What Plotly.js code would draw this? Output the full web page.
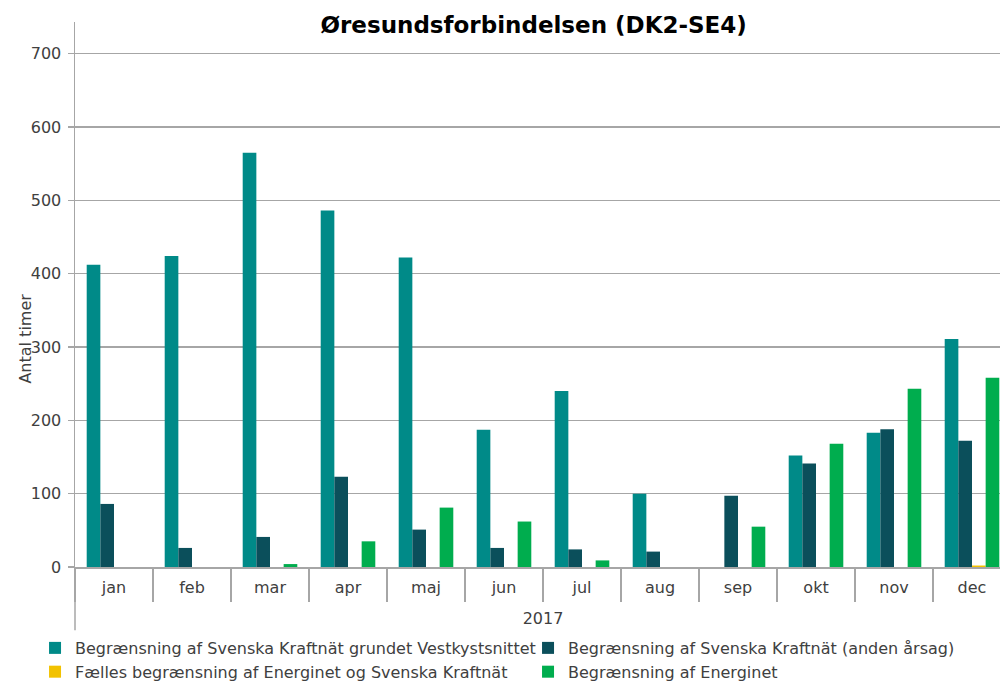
<!DOCTYPE html>
<html>
<head>
<meta charset="utf-8">
<script src="https://cdn.plot.ly/plotly-3.0.1.min.js"></script>
<style>
html,body{margin:0;padding:0;overflow:hidden;background:#fff;width:1000px;height:682px;}
#chart{width:1012px;height:682px;}
</style>
</head>
<body>
<div id="chart"></div>
<script>
const months = ["jan","feb","mar","apr","maj","jun","jul","aug","sep","okt","nov","dec"];
const seriesNames = [
  "Begrænsning af Svenska Kraftnät grundet Vestkystsnittet",
  "Begrænsning af Svenska Kraftnät (anden årsag)",
  "Fælles begrænsning af Energinet og Svenska Kraftnät",
  "Begrænsning af Energinet"
];
const vestkyst = [412, 424, 565, 486, 422, 187, 240, 100, 0, 152, 183, 311];
const andenAarsag = [86, 26, 41, 123, 51, 26, 24, 21, 97, 141, 188, 172];
const faelles = [0, 0, 0, 0, 0, 0, 0, 0, 0, 0, 0, 2];
const energinet = [0, 0, 4, 35, 81, 62, 9, 0, 55, 168, 243, 258];
const seriesValues = [vestkyst, andenAarsag, faelles, energinet];
const colors = ["#008A88", "#0B4F5B", "#F2C200", "#00AD4E"];
const yTicks = [0, 100, 200, 300, 400, 500, 600, 700];

const FONT = "DejaVu Sans, Verdana, sans-serif";
const traces = seriesValues.map((vals, i) => ({
  type: "bar",
  x: months,
  y: vals,
  name: seriesNames[i],
  marker: {color: colors[i], line: {width: 0}},
  hoverinfo: "skip"
}));

const layout = {
  width: 1012,
  height: 682,
  margin: {l: 75, r: 1, t: 22, b: 115, autoexpand: false},
  paper_bgcolor: "#fff",
  plot_bgcolor: "#fff",
  barmode: "group",
  bargap: 0.3,
  bargroupgap: 0,
  font: {family: FONT, size: 16, color: "#404040"},
  title: {
    text: "<b>Øresundsforbindelsen (DK2-SE4)</b>",
    font: {family: FONT, size: 23, color: "#000"},
    x: 0.49, xanchor: "center", xref: "paper",
    y: 0.963, yanchor: "middle"
  },
  xaxis: {
    type: "category",
    showline: true, linecolor: "#A6A6A6", linewidth: 1.5,
    ticks: "outside", tickson: "boundaries", ticklen: 33, tickwidth: 1.5, tickcolor: "#A6A6A6",
    ticklabelstandoff: 5,
    tickfont: {family: FONT, size: 16, color: "#404040"},
    showgrid: false,
    title: {text: "2017", font: {family: FONT, size: 16, color: "#404040"}, standoff: 17},
    automargin: false
  },
  yaxis: {
    range: [0, 743.2],
    tickvals: yTicks,
    ticktext: yTicks.map(String),
    showline: true, linecolor: "#A6A6A6", linewidth: 1.5,
    ticks: "outside", ticklen: 6, tickwidth: 1.5, tickcolor: "#A6A6A6",
    ticklabelstandoff: 3,
    showgrid: true, gridcolor: "#A6A6A6", gridwidth: 1.5,
    zeroline: false,
    tickfont: {family: FONT, size: 16, color: "#404040"},
    automargin: false
  },
  annotations: [{
    text: "Antal timer", textangle: -90,
    xref: "paper", yref: "paper",
    x: -0.0529, y: 0.42, xanchor: "center", yanchor: "middle",
    showarrow: false,
    font: {family: FONT, size: 16, color: "#404040"}
  }],
  shapes: [{
    type: "line", xref: "paper", yref: "paper",
    x0: 0, x1: 0, y0: 0, y1: -0.116,
    line: {color: "#A6A6A6", width: 1.5}
  }],
  legend: {
    orientation: "h",
    x: -0.0427, xanchor: "left",
    y: -0.1174, yanchor: "top",
    entrywidth: 448, entrywidthmode: "pixels",
    itemwidth: 30,
    tracegroupgap: 0,
    font: {family: FONT, size: 16, color: "#404040"},
    bgcolor: "rgba(0,0,0,0)"
  },
  showlegend: true
};

Plotly.newPlot("chart", traces, layout, {displayModeBar: false, staticPlot: true});
</script>
</body>
</html>
